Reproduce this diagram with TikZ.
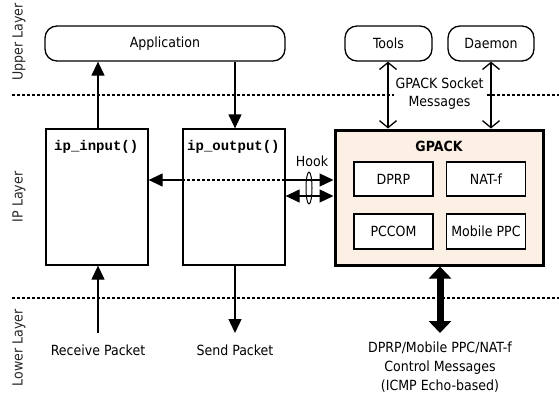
\documentclass[tikz,border=0pt]{standalone}
\usepackage{fontspec}
\setmainfont{DejaVu Sans Condensed}
\setmonofont{Liberation Mono}
\usetikzlibrary{arrows.meta,shapes.geometric}
\definecolor{gpackfill}{HTML}{FCEFE4}
\begin{document}
\begin{tikzpicture}[x=1pt,y=-1pt,
  font=\fontsize{14}{17}\selectfont,
  pill/.style={draw, line width=1.3pt, rounded corners=12pt, minimum height=35pt, inner sep=0pt},
  fnbox/.style={draw, line width=1.3pt, minimum width=102pt, minimum height=136pt, inner sep=0pt},
  modbox/.style={draw, line width=1.3pt, fill=white, minimum width=79pt, minimum height=34pt, inner sep=0pt},
  layerdash/.style={line width=1.2pt, dash pattern=on 3pt off 2pt},
  arr/.style={line width=1.3pt, -{Triangle[length=14pt,width=13pt]}},
  darr/.style={line width=1.3pt, {Triangle[length=14pt,width=13pt]}-{Triangle[length=14pt,width=13pt]}},
  sock/.style={line width=1.3pt, {Straight Barb[length=7pt,width=17pt]}-{Straight Barb[length=7pt,width=17pt]}},
  layerlabel/.style={rotate=90, text=black!85},
  fnlabel/.style={anchor=west, inner sep=0pt, font=\fontsize{14}{17}\selectfont\ttfamily\bfseries},
  plain/.style={inner sep=0pt, align=center}
]
\useasboundingbox (0,0) rectangle (559,394);
% layer separators
\coordinate (d1a) at (12,95);
\coordinate (d1b) at (559,95);
\coordinate (d2a) at (12,298);
\coordinate (d2b) at (559,298);
\draw[layerdash] (d1a) -- (d1b);
\draw[layerdash] (d2a) -- (d2b);
% layer labels
\node[layerlabel] (lup) at (19,42) {Upper Layer};
\node[layerlabel] (lip) at (19,197) {IP Layer};
\node[layerlabel] (llow) at (19,348) {Lower Layer};
% upper layer
\node[pill, minimum width=240pt] (app) at (165,43.5) {Application};
\node[pill, minimum width=87pt] (tools) at (388.5,43.5) {Tools};
\node[pill, minimum width=86pt] (daemon) at (491,43.5) {Daemon};
% IP layer
\node[fnbox] (ipin) at (97,197) {};
\node[fnbox] (ipout) at (234,197) {};
\node[fnlabel] (ipinl) at (54,147) {ip\_input()};
\node[fnlabel] (ipoutl) at (187,147) {ip\_output()};
\node[draw, line width=3pt, fill=gpackfill, minimum width=208pt, minimum height=135pt, inner sep=0pt] (gpack) at (439,197.5) {};
\node[plain, font=\fontsize{14}{17}\selectfont\bfseries] (gpackl) at (439,146) {GPACK};
\node[modbox] (dprp) at (393.5,179) {DPRP};
\node[modbox] (natf) at (486,179) {NAT-f};
\node[modbox, minimum height=35pt] (pccom) at (393.5,231.5) {PCCOM};
\node[modbox, minimum height=35pt] (mppc) at (486,231.5) {Mobile PPC};
% socket arrows
\draw[sock] (tools.south -| 388,0) -- (gpack.north -| 388,0);
\draw[sock] (daemon.south -| 491,0) -- (gpack.north -| 491,0);
\node[plain, fill=white, inner xsep=2pt, font=\fontsize{14}{17.5}\selectfont] (sockl) at (439.5,93.5) {GPACK Socket\\Messages};
% app arrows
\draw[arr] (ipin.north -| 98,0) -- (app.south -| 98,0);
\draw[arr] (app.south -| 235,0) -- (ipout.north -| 235,0);
% internal / hook arrows
\draw[arr] (ipout.west |- 0,180) -- (ipin.east |- 0,180);
\draw[layerdash] (ipout.west |- 0,180) -- (ipout.east |- 0,180);
\draw[arr] (ipout.east |- 0,180) -- (gpack.west |- 0,180);
\draw[darr] (ipout.east |- 0,196) -- (gpack.west |- 0,196);
\node[draw, ellipse, line width=1pt, minimum width=6pt, minimum height=32pt, inner sep=0pt] (hookring) at (309,188) {};
\node[plain] (hook) at (312,161) {Hook};
% lower layer
\node[plain] (recv) at (98,350) {Receive Packet};
\node[plain] (send) at (235,350) {Send Packet};
\coordinate (recvtop) at (98,333);
\coordinate (sendbot) at (235,333);
\draw[arr] (recvtop) -- (ipin.south -| 98,0);
\draw[arr] (ipout.south -| 235,0) -- (sendbot);
\coordinate (ctrltop) at (440,333);
\draw[line width=7pt, {Triangle[length=12pt,width=22pt]}-{Triangle[length=12pt,width=22pt]}] (gpack.south -| 440,0) -- (ctrltop);
\node[plain, font=\fontsize{14}{19}\selectfont] (ctrl) at (440,367) {DPRP/Mobile PPC/NAT-f\\Control Messages\\(ICMP Echo-based)};
\end{tikzpicture}
\end{document}
